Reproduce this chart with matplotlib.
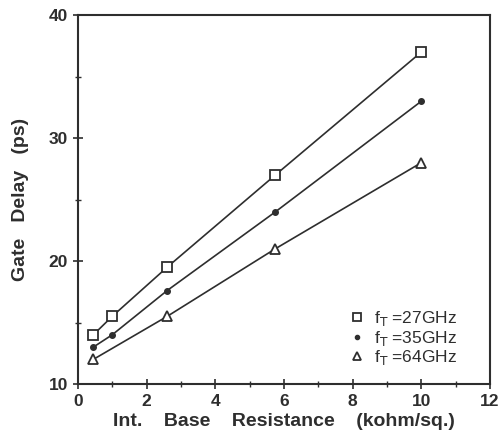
import matplotlib
matplotlib.use("Agg")
import matplotlib.pyplot as plt
from matplotlib.ticker import MultipleLocator

plt.rcParams['font.family'] = ['Liberation Sans', 'DejaVu Sans']

x_sq = [0.45, 1.0, 2.6, 5.75, 10.0]
y_sq = [14.0, 15.5, 19.5, 27.0, 37.0]
x_dot = [0.45, 1.0, 2.6, 5.75, 10.0]
y_dot = [13.0, 14.0, 17.6, 24.0, 33.0]
x_tri = [0.45, 2.6, 5.75, 10.0]
y_tri = [12.0, 15.5, 21.0, 28.0]
labels = [r'f$_\mathrm{T}$ =27GHz', r'f$_\mathrm{T}$ =35GHz', r'f$_\mathrm{T}$ =64GHz']

fig = plt.figure(figsize=(4.99, 4.46), dpi=100)
ax = fig.add_axes([0.156, 0.139, 0.826, 0.827])
c = '#2e2e2e'
ax.plot(x_sq, y_sq, color=c, lw=1.2)
ax.plot(x_dot, y_dot, color=c, lw=1.2)
ax.plot(x_tri, y_tri, color=c, lw=1.2)
h1, = ax.plot(x_sq, y_sq, 's', ms=7, mfc='white', mec=c, mew=1.3, ls='none')
h2, = ax.plot(x_dot, y_dot, 'o', ms=4, mfc=c, mec=c, ls='none')
h3, = ax.plot(x_tri, y_tri, '^', ms=7, mfc='white', mec=c, mew=1.3, ls='none')

ax.set_xlim(0, 12)
ax.set_ylim(10, 40)
ax.xaxis.set_major_locator(MultipleLocator(2))
ax.xaxis.set_minor_locator(MultipleLocator(1))
ax.yaxis.set_major_locator(MultipleLocator(10))
ax.yaxis.set_minor_locator(MultipleLocator(5))
ax.tick_params(which='both', direction='inout', colors=c, labelsize=12.5)
ax.tick_params(which='major', length=7, width=1.2)
ax.tick_params(which='minor', length=4, width=1.0)
for lab in ax.get_xticklabels() + ax.get_yticklabels():
    lab.set_fontweight('bold')
for s in ax.spines.values():
    s.set_linewidth(1.5)
    s.set_color(c)

ax.set_xlabel('Int.    Base    Resistance    (kohm/sq.)', fontsize=14, fontweight='bold', color=c, labelpad=3)
ax.set_ylabel('Gate   Delay   (ps)', fontsize=14, fontweight='bold', color=c, labelpad=14)

leg = ax.legend([h1, h2, h3], labels, loc='lower right', bbox_to_anchor=(0.937, 0.027),
                frameon=False, fontsize=12.5, handletextpad=0.2, borderaxespad=0.0,
                labelspacing=0.03, markerscale=0.75, handlelength=1.5)
for t in leg.get_texts():
    t.set_color(c)

fig.savefig('out.png', dpi=100)
